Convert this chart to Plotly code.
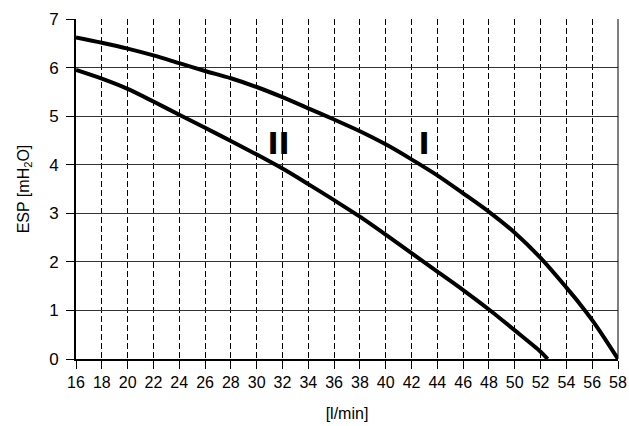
import plotly.graph_objects as go

# Curve I
x_I = [16, 18, 20, 22, 24, 26, 28, 30, 32, 34, 36, 38, 40, 42, 44, 46, 48, 50, 52, 54, 55, 56, 57, 58]
y_I = [6.62, 6.51, 6.39, 6.25, 6.09, 5.93, 5.78, 5.60, 5.39, 5.16, 4.93, 4.69, 4.42, 4.11, 3.78, 3.41, 3.03, 2.60, 2.08, 1.47, 1.15, 0.80, 0.41, 0.0]
# Curve II
x_II = [16, 18, 20, 22, 24, 26, 28, 30, 32, 34, 36, 38, 40, 42, 44, 46, 48, 50, 52, 52.55]
y_II = [5.95, 5.77, 5.56, 5.30, 5.03, 4.76, 4.49, 4.21, 3.92, 3.60, 3.27, 2.93, 2.56, 2.18, 1.80, 1.42, 1.02, 0.59, 0.15, 0.0]

x_ticks = list(range(16, 59, 2))
y_ticks = list(range(0, 8))

labels = ["I", "II"]
label_x = [42.97, 31.7]
label_y = [4.38, 4.38]

FONT = "Liberation Sans, Arial, sans-serif"

fig = go.Figure()
fig.add_trace(go.Scatter(x=x_I, y=y_I, mode="lines", line=dict(color="black", width=4, shape="spline", smoothing=0.8), showlegend=False))
fig.add_trace(go.Scatter(x=x_II, y=y_II, mode="lines", line=dict(color="black", width=4, shape="spline", smoothing=0.8), showlegend=False))
fig.add_trace(go.Scatter(x=label_x, y=label_y, mode="text", text=labels,
                         textfont=dict(family="DejaVu Sans", size=30, color="black", weight="bold"),
                         showlegend=False))

fig.update_layout(
    width=629, height=426,
    margin=dict(l=76, r=11, t=19, b=67),
    plot_bgcolor="white", paper_bgcolor="white",
    font=dict(family=FONT, size=16, color="black"),
    xaxis=dict(range=[16, 58], tickvals=x_ticks, ticktext=[str(v) for v in x_ticks],
               showgrid=True, gridcolor="black", gridwidth=1, griddash="6px,3px",
               showline=True, linecolor="black", linewidth=2,
               ticks="outside", ticklen=8, tickcolor="black", tickwidth=1,
               ticklabelstandoff=0, zeroline=False, tickfont=dict(size=16),
               automargin=False,
               title=dict(text="[l/min]", font=dict(family=FONT, size=16), standoff=18)),
    yaxis=dict(range=[0, 7], tickvals=y_ticks,
               showgrid=True, gridcolor="#333333", gridwidth=1,
               showline=True, linecolor="black", linewidth=2,
               ticks="outside", ticklen=8, tickcolor="black", tickwidth=1,
               ticklabelstandoff=4, zeroline=False, tickfont=dict(size=17),
               automargin=False,
               title=dict(text="ESP [mH<sub>2</sub>O]", font=dict(family=FONT, size=16), standoff=16)),
    shapes=[dict(type="line", xref="paper", yref="paper", x0=1, x1=1, y0=0, y1=1,
                 line=dict(color="black", width=1))],
)

fig.write_html("out.html", config={"displayModeBar": False},
               post_script="document.body.style.margin='0';document.body.style.overflow='hidden';")
